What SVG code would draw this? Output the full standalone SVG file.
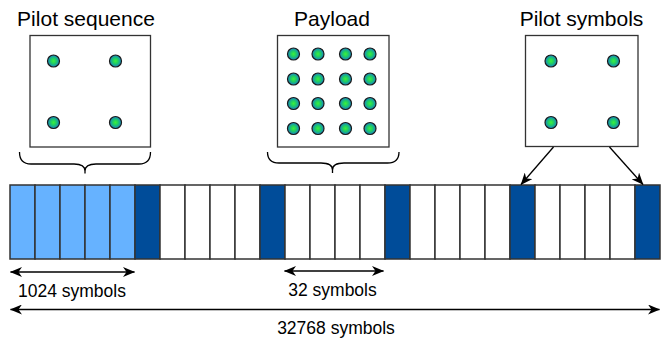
<svg xmlns="http://www.w3.org/2000/svg" width="663" height="339" viewBox="0 0 663 339">
<style>
.title{font-family:"Liberation Sans",Arial,sans-serif;font-size:21px;fill:#000;text-anchor:middle}
.lbl{font-family:"Liberation Sans",Arial,sans-serif;font-size:17.5px;fill:#000;text-anchor:middle}
.box{fill:#fff;stroke:#333;stroke-width:1.3}
.dot{fill:url(#dg);stroke:#1a1a1a;stroke-width:1.2}
.cell{fill:#fff;stroke:#333;stroke-width:1.5}
.lt{fill:#66B2FF}
.dk{fill:#004C99}
.brace{fill:none;stroke:#000;stroke-width:1.3}
.ln{fill:none;stroke:#000;stroke-width:1.3}
</style>
<defs>
<radialGradient id="dg" cx="50%" cy="50%" r="50%">
<stop offset="0" stop-color="#3CF03C"/>
<stop offset="0.45" stop-color="#1FCC66"/>
<stop offset="1" stop-color="#1680C8"/>
</radialGradient>
<marker id="ah" viewBox="0 0 12 10" refX="11.5" refY="5" markerWidth="12" markerHeight="10" markerUnits="userSpaceOnUse" orient="auto-start-reverse">
<path d="M0,0 L12,5 L0,10 L3.5,5 z" fill="#000"/>
</marker>
</defs>

<g id="pilot-sequence">
<text class="title" x="86" y="26">Pilot sequence</text>
<rect class="box" x="30" y="35.5" width="120.5" height="111.5"/>
<circle class="dot" cx="53.5" cy="61" r="6"/>
<circle class="dot" cx="115.5" cy="61" r="6"/>
<circle class="dot" cx="53.5" cy="122.5" r="6"/>
<circle class="dot" cx="115.5" cy="122.5" r="6"/>
<path class="brace" d="M19.5,152 Q19.5,164 31,164 L74,164 Q85,164 85,171 L85,173.5 M85,171 Q85,164 96,164 L139,164 Q150.5,164 150.5,152"/>
</g>

<g id="payload">
<text class="title" x="332" y="26">Payload</text>
<rect class="box" x="277.5" y="35.5" width="111.5" height="111.5"/>
<circle class="dot" cx="293.5" cy="54" r="6"/>
<circle class="dot" cx="318" cy="54" r="6"/>
<circle class="dot" cx="345.5" cy="54" r="6"/>
<circle class="dot" cx="370" cy="54" r="6"/>
<circle class="dot" cx="293.5" cy="79" r="6"/>
<circle class="dot" cx="318" cy="79" r="6"/>
<circle class="dot" cx="345.5" cy="79" r="6"/>
<circle class="dot" cx="370" cy="79" r="6"/>
<circle class="dot" cx="293.5" cy="103.5" r="6"/>
<circle class="dot" cx="318" cy="103.5" r="6"/>
<circle class="dot" cx="345.5" cy="103.5" r="6"/>
<circle class="dot" cx="370" cy="103.5" r="6"/>
<circle class="dot" cx="293.5" cy="128.5" r="6"/>
<circle class="dot" cx="318" cy="128.5" r="6"/>
<circle class="dot" cx="345.5" cy="128.5" r="6"/>
<circle class="dot" cx="370" cy="128.5" r="6"/>
<path class="brace" d="M267.5,152 Q267.5,163 279,163 L321,163 Q332.5,163 332.5,170 L332.5,173 M332.5,170 Q332.5,163 344,163 L387.5,163 Q399,163 399,152"/>
</g>

<g id="pilot-symbols">
<text class="title" x="581.5" y="26">Pilot symbols</text>
<rect class="box" x="525.5" y="35.5" width="112.5" height="111"/>
<circle class="dot" cx="551" cy="61" r="6"/>
<circle class="dot" cx="613.5" cy="61" r="6"/>
<circle class="dot" cx="551" cy="122.5" r="6"/>
<circle class="dot" cx="613.5" cy="122.5" r="6"/>
</g>

<g id="frame">
<rect class="cell lt" x="10" y="185" width="25" height="74"/>
<rect class="cell lt" x="35" y="185" width="25" height="74"/>
<rect class="cell lt" x="60" y="185" width="25" height="74"/>
<rect class="cell lt" x="85" y="185" width="25" height="74"/>
<rect class="cell lt" x="110" y="185" width="25" height="74"/>
<rect class="cell dk" x="135" y="185" width="25" height="74"/>
<rect class="cell" x="160" y="185" width="25" height="74"/>
<rect class="cell" x="185" y="185" width="25" height="74"/>
<rect class="cell" x="210" y="185" width="25" height="74"/>
<rect class="cell" x="235" y="185" width="25" height="74"/>
<rect class="cell dk" x="260" y="185" width="25" height="74"/>
<rect class="cell" x="285" y="185" width="25" height="74"/>
<rect class="cell" x="310" y="185" width="25" height="74"/>
<rect class="cell" x="335" y="185" width="25" height="74"/>
<rect class="cell" x="360" y="185" width="25" height="74"/>
<rect class="cell dk" x="385" y="185" width="25" height="74"/>
<rect class="cell" x="410" y="185" width="25" height="74"/>
<rect class="cell" x="435" y="185" width="25" height="74"/>
<rect class="cell" x="460" y="185" width="25" height="74"/>
<rect class="cell" x="485" y="185" width="25" height="74"/>
<rect class="cell dk" x="510" y="185" width="25" height="74"/>
<rect class="cell" x="535" y="185" width="25" height="74"/>
<rect class="cell" x="560" y="185" width="25" height="74"/>
<rect class="cell" x="585" y="185" width="25" height="74"/>
<rect class="cell" x="610" y="185" width="25" height="74"/>
<rect class="cell dk" x="635" y="185" width="25" height="74"/>
</g>

<g id="connectors">
<line class="ln" x1="553.5" y1="147" x2="521" y2="184.5" marker-end="url(#ah)"/>
<line class="ln" x1="609.5" y1="147" x2="643" y2="184.5" marker-end="url(#ah)"/>
<line class="ln" x1="10.5" y1="272" x2="134.5" y2="272" marker-start="url(#ah)" marker-end="url(#ah)"/>
<line class="ln" x1="284.5" y1="271" x2="383.5" y2="271" marker-start="url(#ah)" marker-end="url(#ah)"/>
<line class="ln" x1="10.5" y1="309.5" x2="659.5" y2="309.5" marker-start="url(#ah)" marker-end="url(#ah)"/>
</g>

<g id="labels">
<text class="lbl" x="72" y="297">1024 symbols</text>
<text class="lbl" x="332.5" y="296">32 symbols</text>
<text class="lbl" x="336" y="334">32768 symbols</text>
</g>
</svg>
